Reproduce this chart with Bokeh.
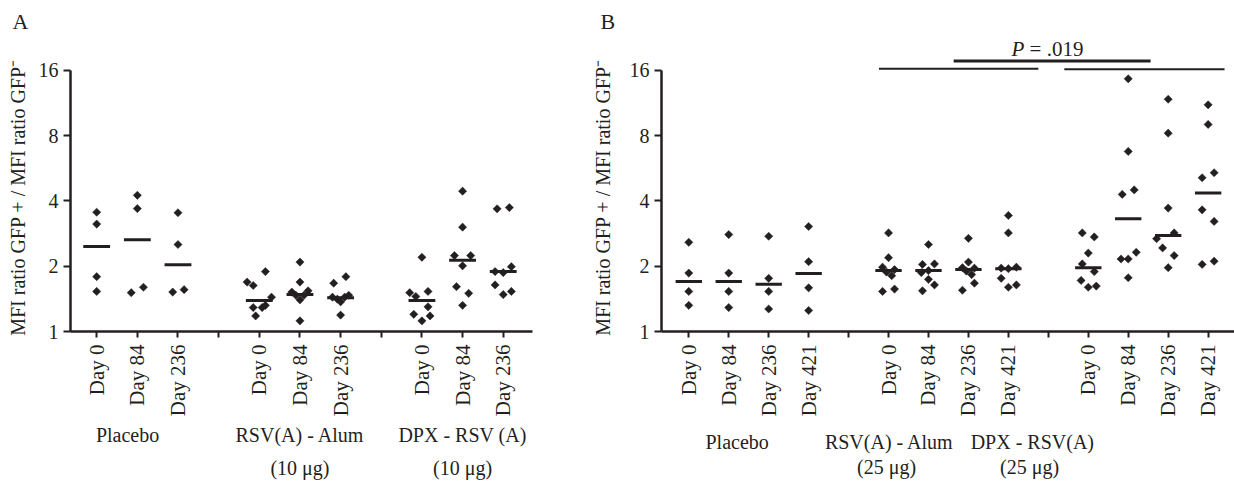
import math
import numpy as np
from bokeh.plotting import figure
from bokeh.layouts import row
from bokeh.models import Range1d, FixedTicker, Label, LinearAxis
from bokeh.embed import file_html
from bokeh.resources import INLINE

FONT = "Liberation Serif"
INK = "#231f20"

# ---------------- data: panel A ----------------
a_days = ["Day 0", "Day 84", "Day 236"]
a_groups = ["Placebo", "RSV(A) - Alum", "DPX - RSV (A)"]
a_doses = ["", "(10 μg)", "(10 μg)"]
a_values = [
    [3.55, 3.13, 1.79, 1.53],
    [4.25, 3.69, 1.60, 1.51],
    [3.53, 2.52, 1.52, 1.56],
    [1.69, 1.63, 1.89, 1.29, 1.29, 1.32, 1.44, 1.18],
    [2.09, 1.69, 1.52, 1.47, 1.40, 1.47, 1.54, 1.12],
    [1.67, 1.79, 1.44, 1.41, 1.37, 1.44, 1.47, 1.19],
    [2.20, 1.51, 1.45, 1.53, 1.30, 1.20, 1.18, 1.12],
    [4.44, 3.03, 2.24, 2.24, 2.01, 1.61, 1.50, 1.32],
    [3.68, 3.73, 1.89, 1.87, 1.99, 1.64, 1.48, 1.53],
]
a_jitter = [
    [0, 0, 0, 0],
    [0, 0, 0.15, -0.15],
    [0, 0, -0.13, 0.15],
    [-0.3, -0.15, 0.15, -0.15, 0.07, 0.15, 0.3, -0.09],
    [0, 0, -0.2, -0.1, 0, 0.1, 0.2, 0],
    [-0.17, 0.13, -0.2, -0.08, 0, 0.1, 0.2, 0],
    [0, -0.3, -0.15, 0.15, 0.15, -0.2, 0.2, 0],
    [0, 0, -0.2, 0.2, 0, -0.15, 0.15, 0],
    [-0.15, 0.15, -0.2, 0, 0.2, -0.2, 0, 0.2],
]
a_means = [2.47, 2.65, 2.03, 1.39, 1.48, 1.43, 1.39, 2.13, 1.89]

# ---------------- data: panel B ----------------
b_days = ["Day 0", "Day 84", "Day 236", "Day 421"]
b_groups = ["Placebo", "RSV(A) - Alum", "DPX - RSV(A)"]
b_doses = ["", "(25 μg)", "(25 μg)"]
b_values = [
    [2.58, 1.86, 1.53, 1.32],
    [2.80, 1.86, 1.53, 1.29],
    [2.75, 1.76, 1.53, 1.27],
    [3.05, 2.10, 1.59, 1.25],
    [2.85, 2.19, 1.98, 1.93, 1.88, 1.81, 1.53, 1.57],
    [2.52, 2.04, 2.05, 1.87, 1.91, 1.74, 1.64, 1.54],
    [2.69, 2.09, 1.97, 1.96, 1.90, 1.83, 1.67, 1.55],
    [3.43, 2.85, 1.96, 1.95, 1.98, 1.76, 1.60, 1.64],
    [2.85, 2.73, 2.30, 2.05, 1.89, 1.72, 1.60, 1.62],
    [14.65, 6.77, 4.29, 4.50, 2.16, 2.16, 2.32, 1.77],
    [11.79, 8.22, 3.71, 2.85, 2.68, 2.43, 2.24, 1.97],
    [11.11, 9.02, 5.12, 5.40, 3.64, 3.22, 2.04, 2.11],
]
b_jitter = [
    [0, 0, 0, 0],
    [0, 0, 0, 0],
    [0, 0, 0, 0],
    [0, 0, 0, 0],
    [0, 0, -0.15, 0.15, -0.05, 0.08, -0.15, 0.15],
    [0, -0.15, 0.15, -0.18, 0, 0, 0.15, -0.15],
    [0, 0, -0.15, 0.15, -0.05, 0.08, 0.15, -0.15],
    [0, 0, -0.18, 0, 0.2, -0.18, 0, 0.2],
    [-0.15, 0.15, 0, -0.15, 0.15, -0.18, 0, 0.2],
    [0, 0, -0.15, 0.15, -0.18, 0, 0.2, 0],
    [0, 0, 0, 0.15, -0.29, -0.14, 0.15, 0],
    [0, 0, -0.15, 0.15, -0.15, 0.15, -0.15, 0.15],
]
b_means = [1.70, 1.70, 1.65, 1.85, 1.91, 1.91, 1.93, 1.95, 1.97, 3.31, 2.77, 4.36]

# significance comparison (panel B)
sig_x0 = [5.76, 10.40, 7.63]
sig_x1 = [9.75, 14.41, 12.56]
sig_y = [16.3, 16.2, 17.7]
sig_text = ".019"

y_ticks = [1, 2, 4, 8, 16]
y_label = "MFI ratio GFP + / MFI ratio GFP⁻" + "\u00a0" * 6

Y_TOP = 23.7  # frame top (in data) – leaves room for the P-value bracket
HEIGHT = 481


def style_text_axis(ax, size="20px"):
    ax.major_label_text_font = FONT
    ax.major_label_text_font_size = size
    ax.major_label_text_color = INK
    ax.axis_label_text_font = FONT
    ax.axis_label_text_font_size = "20px"
    ax.axis_label_text_font_style = "normal"
    ax.axis_label_text_color = INK


def make_panel(days, groups, doses, values, jitter, means, x_range, width,
               border_left, border_right, label_standoff, letter, letter_offset,
               group_x, dose_x, group_standoff, dose_standoff):
    n_days = len(days)
    positions = [g * (n_days + 1) + d + 1 for g in range(len(groups)) for d in range(n_days)]
    p = figure(width=width, height=HEIGHT, x_range=Range1d(*x_range),
               y_range=Range1d(1, Y_TOP), y_axis_type="log",
               output_backend="svg", toolbar_location=None,
               min_border_left=border_left, min_border_right=border_right,
               min_border_top=33, min_border_bottom=150)
    p.outline_line_color = None
    p.xgrid.grid_line_color = None
    p.ygrid.grid_line_color = None
    p.background_fill_color = "white"
    p.border_fill_color = "white"

    p.title.text = letter
    p.title.align = "left"
    p.title.offset = letter_offset
    p.title.standoff = 0
    p.title.text_font = FONT
    p.title.text_font_size = "22px"
    p.title.text_font_style = "normal"
    p.title.text_color = INK

    xs, ys = [], []
    for pos, vals, jit in zip(positions, values, jitter):
        for v, j in zip(vals, jit):
            xs.append(pos + j)
            ys.append(v)
    p.scatter(xs, ys, marker="square", size=5.8, angle=np.pi / 4,
              color=INK, line_width=0.5)
    p.segment(x0=[q - 0.33 for q in positions], x1=[q + 0.33 for q in positions],
              y0=means, y1=means, line_width=3, line_color=INK)

    # x axis with day labels
    all_ticks = list(range(1, len(groups) * (n_days + 1)))
    overrides = {}
    for t in all_ticks:
        d = (t - 1) % (n_days + 1)
        overrides[t] = days[d] if d < n_days else ""
    xa = p.xaxis[0]
    xa.ticker = FixedTicker(ticks=all_ticks)
    xa.major_label_overrides = overrides
    xa.major_label_orientation = math.pi / 2
    xa.minor_tick_line_color = None
    xa.major_tick_in = 0
    xa.major_tick_out = 6
    xa.major_label_standoff = 7
    xa.axis_line_width = 2.5
    xa.axis_line_color = INK
    xa.major_tick_line_width = 2
    xa.major_tick_line_color = INK
    style_text_axis(xa, "21px")

    # group-name axis and dose axis (text only)
    g_ax = LinearAxis(ticker=FixedTicker(ticks=group_x),
                      major_label_overrides={gx: t for gx, t in zip(group_x, groups)})
    d_ticks = [dx for dx, t in zip(dose_x, doses) if t]
    d_ax = LinearAxis(ticker=FixedTicker(ticks=d_ticks),
                      major_label_overrides={dx: t for dx, t in zip(dose_x, doses) if t})
    for ax, so in ((g_ax, group_standoff), (d_ax, dose_standoff)):
        ax.axis_line_color = None
        ax.major_tick_line_color = None
        ax.minor_tick_line_color = None
        ax.major_tick_in = 0
        ax.major_tick_out = 0
        ax.minor_tick_in = 0
        ax.minor_tick_out = 0
        ax.major_label_standoff = so
        style_text_axis(ax)
        p.add_layout(ax, "below")

    # y axis
    ya = p.yaxis[0]
    ya.ticker = FixedTicker(ticks=y_ticks)
    ya.major_label_overrides = {t: str(t) for t in y_ticks}
    ya.bounds = (1, 16)
    ya.minor_tick_line_color = None
    ya.major_tick_in = 0
    ya.major_tick_out = 7
    ya.major_label_standoff = 5
    ya.axis_label = y_label
    ya.axis_label_standoff = label_standoff
    ya.axis_line_width = 2.5
    ya.axis_line_color = INK
    ya.major_tick_line_width = 2
    ya.major_tick_line_color = INK
    style_text_axis(ya)
    return p


pa = make_panel(a_days, a_groups, a_doses, a_values, a_jitter, a_means,
                x_range=(0.356, 11.72), width=585, border_left=70, border_right=53,
                label_standoff=7, letter="A", letter_offset=-58,
                group_x=[1.76, 6.0, 10.0], dose_x=[0, 6.0, 10.0],
                group_standoff=4, dose_standoff=8)

pb = make_panel(b_days, b_groups, b_doses, b_values, b_jitter, b_means,
                x_range=(0.317, 14.66), width=649, border_left=76, border_right=0,
                label_standoff=13, letter="B", letter_offset=-61,
                group_x=[2.21, 6.02, 9.6], dose_x=[0, 5.95, 9.53],
                group_standoff=11, dose_standoff=0)

pb.segment(x0=sig_x0, x1=sig_x1, y0=sig_y, y1=sig_y,
           line_width=[2, 2, 3], line_color=INK)
pb.add_layout(Label(x=9.40, y=20.0, text="P", text_align="right",
                    text_baseline="alphabetic", text_font=FONT,
                    text_font_size="21px", text_font_style="italic", text_color=INK))
pb.add_layout(Label(x=9.53, y=20.0, text="= " + sig_text, text_align="left",
                    text_baseline="alphabetic", text_font=FONT,
                    text_font_size="21px", text_color=INK))

layout = row(pa, pb)
open("out.html", "w").write(file_html(layout, INLINE))
